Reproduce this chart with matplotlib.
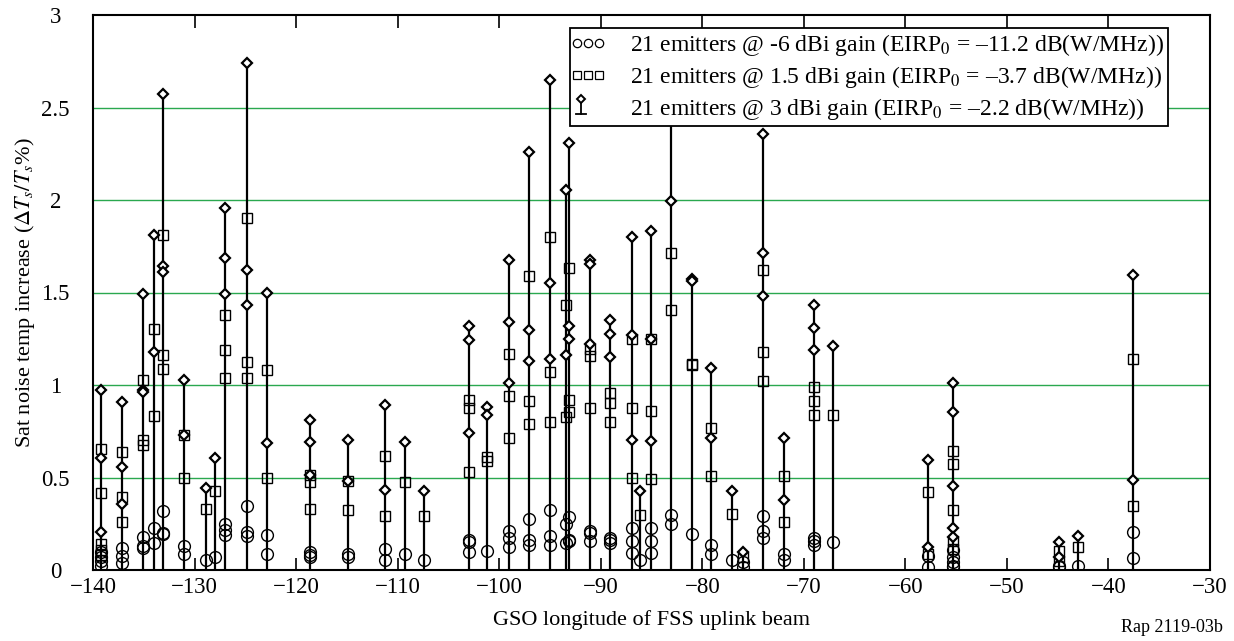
import matplotlib
matplotlib.use("Agg")
import matplotlib.pyplot as plt
from matplotlib.lines import Line2D
from matplotlib.legend_handler import HandlerLine2D

plt.rcParams['font.family'] = ['Liberation Serif', 'DejaVu Serif']
plt.rcParams['mathtext.fontset'] = 'stix'

# GSO longitude of each FSS uplink beam (deg)
lon = [-139.2, -137.1, -135.1, -134.0, -133.1, -131.0, -128.9, -128.0, -127.0, -124.8,
       -122.85, -118.6, -114.9, -111.2, -109.3, -107.4, -103.0, -101.2, -99.0, -97.03,
       -95.0, -93.4, -93.1, -91.1, -89.1, -86.95, -86.1, -85.0, -83.1, -81.0,
       -79.14, -77.1, -76.0, -74.0, -72.0, -68.97, -67.1, -57.8, -55.3, -44.9,
       -43.0, -37.55]

# -6 dBi gain emitters (circles)
circ = [[0.10, 0.07, 0.05, 0.02], [0.12, 0.075, 0.037], [0.178, 0.13, 0.12], [0.228, 0.145],
        [0.317, 0.199, 0.193], [0.131, 0.089], [0.052], [0.068], [0.249, 0.214, 0.189],
        [0.344, 0.207, 0.183], [0.187, 0.089], [0.10, 0.083, 0.068], [0.089, 0.068],
        [0.116, 0.054], [0.089], [0.054], [0.164, 0.149, 0.099], [0.104],
        [0.211, 0.174, 0.127], [0.276, 0.164, 0.136], [0.326, 0.183, 0.136], [0.248, 0.146],
        [0.285, 0.164, 0.155], [0.211, 0.20, 0.155], [0.174, 0.164, 0.146], [0.229, 0.155, 0.09],
        [0.052], [0.226, 0.155, 0.09], [0.299, 0.248], [0.192], [0.136, 0.086], [0.052],
        [0.043, 0.015], [0.291, 0.211, 0.174], [0.086, 0.056], [0.174, 0.155, 0.136], [0.149],
        [0.077, 0.014], [0.108, 0.068, 0.041, 0.023, 0.014], [0.023, 0.014], [0.02],
        [0.203, 0.063]]

# 1.5 dBi gain emitters (squares)
sq = [[0.656, 0.417, 0.14, 0.11, 0.08], [0.639, 0.396, 0.261], [1.027, 0.701, 0.676], [1.303, 0.832],
      [1.811, 1.162, 1.085], [0.728, 0.50], [0.328], [0.425], [1.38, 1.189, 1.037],
      [1.905, 1.127, 1.037], [1.079, 0.50], [0.514, 0.473, 0.332], [0.483, 0.324],
      [0.618, 0.29], [0.473], [0.29], [0.92, 0.873, 0.528], [0.612, 0.59],
      [1.166, 0.942, 0.715], [1.591, 0.914, 0.789], [1.802, 1.069, 0.799], [1.433, 0.826],
      [1.632, 0.92, 0.854], [1.194, 1.157, 0.873], [0.957, 0.901, 0.799], [1.25, 0.873, 0.496],
      [0.299], [1.246, 0.858, 0.491], [1.716, 1.405], [1.116, 1.106], [0.765, 0.509], [0.304],
      [0.071], [1.623, 1.181, 1.022], [0.509, 0.257], [0.989, 0.914, 0.84], [0.84],
      [0.423, 0.086], [0.644, 0.572, 0.324, 0.158, 0.113], [0.104, 0.05], [0.122],
      [1.138, 0.344]]

# 3 dBi gain emitters (diamonds)
dia = [[0.975, 0.608, 0.203], [0.909, 0.556, 0.359], [1.494, 0.971, 0.96], [1.811, 1.178],
       [2.573, 1.641, 1.61], [1.027, 0.728], [0.442], [0.608], [1.956, 1.687, 1.494],
       [2.739, 1.624, 1.434], [1.50, 0.685], [0.809, 0.691, 0.514], [0.701, 0.483],
       [0.892, 0.432], [0.691], [0.427], [1.321, 1.243, 0.743], [0.882, 0.84],
       [1.675, 1.34, 1.013], [2.257, 1.297, 1.131], [2.649, 1.549, 1.138], [2.052, 1.162],
       [2.31, 1.321, 1.25], [1.675, 1.653, 1.224], [1.354, 1.274, 1.149], [1.80, 1.269, 0.705],
       [0.425], [1.834, 1.246, 0.70], [2.75, 1.993], [1.573, 1.563], [1.091, 0.715], [0.425],
       [0.099], [2.356, 1.713, 1.48], [0.715, 0.379], [1.433, 1.306, 1.19], [1.209],
       [0.597, 0.122], [1.013, 0.854, 0.455, 0.225, 0.18], [0.149, 0.068], [0.183],
       [1.597, 0.489]]

labels = [r'21 emitters @ -6 dBi gain (EIRP$_0$ = –11.2 dB(W/MHz))',
          r'21 emitters @ 1.5 dBi gain (EIRP$_0$ = –3.7 dB(W/MHz))',
          r'21 emitters @ 3 dBi gain (EIRP$_0$ = –2.2 dB(W/MHz))']

xticks = list(range(-140, -29, 10))
yticks = [0, 0.5, 1, 1.5, 2, 2.5, 3]
ytick_labels = ['0', '0.5', '1', '1.5', '2', '2.5', '3']

fig = plt.figure(figsize=(12.34, 6.41), dpi=100)
ax = fig.add_axes([93/1234, 1-570/641, 1117/1234, 555/641])

green = '#2aa84f'
for yv in yticks[1:-1]:
    ax.axhline(yv, color=green, lw=1.0, zorder=1)

tops = [max(c + s + d) for c, s, d in zip(circ, sq, dia)]
ax.vlines(lon, 0, tops, color='black', lw=1.6, zorder=2)

def flat(groups):
    xs, ys = [], []
    for x, g in zip(lon, groups):
        for v in g:
            xs.append(x)
            ys.append(v)
    return xs, ys

cx, cy = flat(circ)
sx, sy = flat(sq)
dx, dy = flat(dia)
ax.plot(cx, cy, ls='none', marker='o', ms=8.5, mfc='none', mec='black', mew=1.0, zorder=3)
ax.plot(sx, sy, ls='none', marker='s', ms=7, mfc='none', mec='black', mew=1.0, zorder=3)
ax.plot(dx, dy, ls='none', marker='D', ms=5.3, mfc='white', mec='black', mew=1.6, zorder=4)

ax.set_xlim(-140, -30)
ax.set_ylim(0, 3)
ax.set_xticks(xticks)
ax.set_xticklabels(['\u2212%d' % abs(v) for v in xticks])
ax.set_yticks(yticks)
ax.set_yticklabels(ytick_labels)
for lbl in ax.get_yticklabels():
    lbl.set_horizontalalignment('center')
ax.tick_params(axis='x', direction='in', top=True, length=9, width=1.2, labelsize=16.5, pad=5)
ax.tick_params(axis='y', direction='in', length=0, labelsize=16.5, pad=27)
for sp in ax.spines.values():
    sp.set_linewidth(1.5)

ax.set_xlabel('GSO longitude of FSS uplink beam', fontsize=16, labelpad=9)
ax.set_ylabel(r'Sat noise temp increase ($\Delta T_s/T_s$%)', fontsize=16, labelpad=3)


class StemHandler:
    def legend_artist(self, legend, orig_handle, fontsize, handlebox):
        x0, y0 = -handlebox.xdescent, -handlebox.ydescent
        h = handlebox.height
        cx = x0 + 0.28 * fontsize
        tr = handlebox.get_transform()
        stem = Line2D([cx, cx], [y0 + 0.05 * h, y0 + 0.95 * h], color='black', lw=1.3, transform=tr)
        base = Line2D([cx - 0.2 * fontsize, cx + 0.2 * fontsize], [y0 + 0.05 * h, y0 + 0.05 * h],
                      color='black', lw=1.3, transform=tr)
        d = Line2D([cx], [y0 + 0.95 * h], ls='none', marker='D', ms=4.2, mfc='white',
                   mec='black', mew=1.4, transform=tr)
        for a in (stem, base, d):
            handlebox.add_artist(a)
        return stem


h_c = Line2D([], [], ls='none', marker='o', ms=6, mfc='none', mec='black', mew=0.9)
h_s = Line2D([], [], ls='none', marker='s', ms=5.5, mfc='none', mec='black', mew=0.9)
h_d = Line2D([], [], ls='none', marker='D')
leg = ax.legend([h_c, h_s, h_d], labels, loc='upper right',
                bbox_to_anchor=((1168-93)/1117, 1-(28-15)/555), borderaxespad=0, fontsize=17,
                handler_map={h_c: HandlerLine2D(numpoints=3, marker_pad=0.12),
                             h_s: HandlerLine2D(numpoints=3, marker_pad=0.12),
                             h_d: StemHandler()},
                frameon=True, fancybox=False, framealpha=1, edgecolor='black',
                handlelength=1.15, handletextpad=1.2, labelspacing=0.25, borderpad=0.18)
leg.get_frame().set_linewidth(1.3)
leg.set_zorder(10)

fig.text(1172/1234, 1-628/641, 'Rap 2119-03b', fontsize=13, ha='center', va='center')

fig.savefig('out.png', dpi=100)
